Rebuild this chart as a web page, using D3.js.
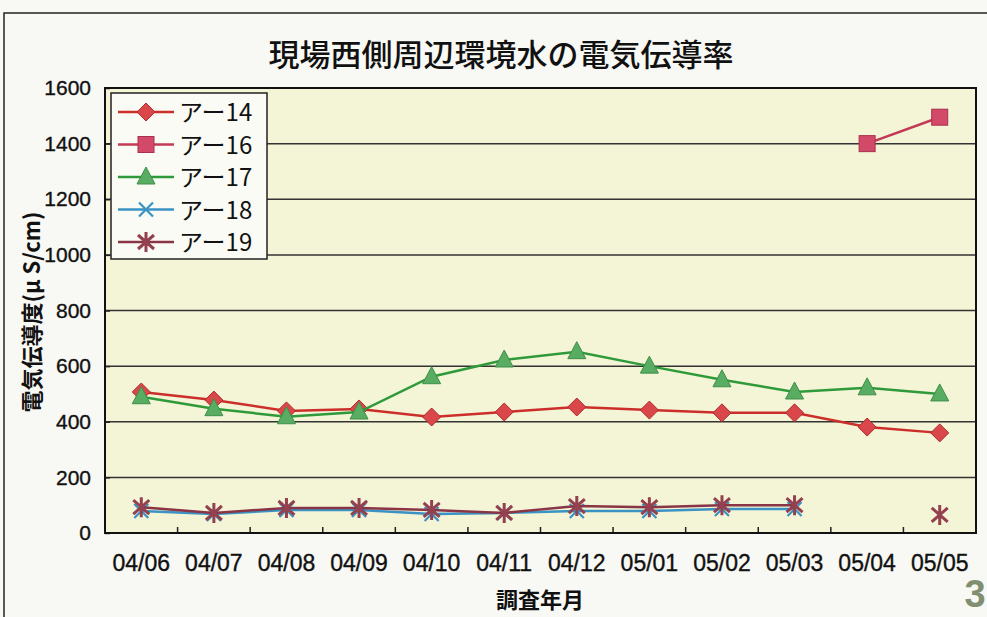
<!DOCTYPE html>
<html>
<head>
<meta charset="utf-8">
<script src="https://cdn.jsdelivr.net/npm/d3@7"></script>
<style>
  body { margin: 0; background: #f8f8f4; }
  svg { display: block; }
  .jp { font-family: "Noto Sans CJK JP", "Noto Sans", sans-serif; }
  .num { font-family: "Liberation Sans", Arial, sans-serif; }
</style>
</head>
<body>
<svg id="chart" width="987" height="617"></svg>
<script>
var categories = ["04/06", "04/07", "04/08", "04/09", "04/10", "04/11", "04/12", "05/01", "05/02", "05/03", "05/04", "05/05"];
var yTicks = [0, 200, 400, 600, 800, 1000, 1200, 1400, 1600];

var a14 = [507, 478, 439, 446, 417, 435, 453, 442, 432, 432, 381, 360];
var a16 = [null, null, null, null, null, null, null, null, null, null, 1400, 1495];
var a17 = [490, 447, 418, 435, 562, 622, 652, 600, 551, 507, 522, 500];
var a18 = [79, 68, 83, 83, 68, 72, 79, 79, 86, 86, null, null];
var a19 = [93, 72, 90, 90, 83, 72, 97, 93, 100, 100, null, 65];

var seriesNames = ["アー14", "アー16", "アー17", "アー18", "アー19"];

var series = [
  { name: seriesNames[0], values: a14, line: "#cc2f2a", fill: "#d9474a", marker: "diamond" },
  { name: seriesNames[1], values: a16, line: "#c23a55", fill: "#d34a68", marker: "square" },
  { name: seriesNames[2], values: a17, line: "#2f9a3a", fill: "#58ad62", marker: "triangle" },
  { name: seriesNames[3], values: a18, line: "#3a93c4", fill: "#3a93c4", marker: "x" },
  { name: seriesNames[4], values: a19, line: "#8a3546", fill: "#93404f", marker: "star" }
];

var svg = d3.select("#chart");
var m = { left: 105, right: 976, top: 88, bottom: 533 };

// outer frame
svg.append("path")
    .attr("d", "M4,617 L4,13 L987,13")
    .attr("fill", "none")
    .attr("stroke", "#222")
    .attr("stroke-width", 1.5);

svg.append("rect")
    .attr("x", m.left).attr("y", m.top)
    .attr("width", m.right - m.left).attr("height", m.bottom - m.top)
    .attr("fill", "#f4f4d6");

var x = d3.scaleBand().domain(categories).range([m.left, m.right]).padding(0);
var y = d3.scaleLinear().domain([0, 1600]).range([m.bottom, m.top]);
function cx(i) { return x(categories[i]) + x.bandwidth() / 2; }

// gridlines
svg.append("g").selectAll("line")
    .data(yTicks.filter(function (t) { return t > 0 && t < 1600; }))
    .join("line")
    .attr("x1", m.left).attr("x2", m.right)
    .attr("y1", function (d) { return y(d); }).attr("y2", function (d) { return y(d); })
    .attr("stroke", "#333").attr("stroke-width", 1.5);

// y axis
var yAxis = svg.append("g")
    .attr("transform", "translate(" + m.left + ",0)")
    .call(d3.axisLeft(y).tickValues(yTicks).tickSize(-5).tickPadding(14).tickFormat(d3.format("d")));
yAxis.select(".domain").remove();
yAxis.selectAll("line").attr("stroke", "#222").attr("stroke-width", 1.5);
yAxis.selectAll("text")
    .attr("class", "num")
    .attr("font-size", 21)
    .attr("fill", "#111")
    .attr("stroke", "#111").attr("stroke-width", 0.35);

// x axis
var xAxis = svg.append("g")
    .attr("transform", "translate(0," + m.bottom + ")")
    .call(d3.axisBottom(x).tickSize(0).tickPadding(22));
xAxis.select(".domain").remove();
xAxis.selectAll("text")
    .attr("class", "num")
    .attr("font-size", 23)
    .attr("fill", "#111")
    .attr("stroke", "#111").attr("stroke-width", 0.35);

// category boundary ticks (inward)
svg.append("g").selectAll("line")
    .data(categories.slice(1))
    .join("line")
    .attr("x1", function (d) { return x(d); }).attr("x2", function (d) { return x(d); })
    .attr("y1", m.bottom).attr("y2", m.bottom - 6)
    .attr("stroke", "#222").attr("stroke-width", 1.5);

// plot border
svg.append("rect")
    .attr("x", m.left).attr("y", m.top)
    .attr("width", m.right - m.left).attr("height", m.bottom - m.top)
    .attr("fill", "none").attr("stroke", "#111").attr("stroke-width", 2);

function drawMarker(g, type, s) {
  var size = 9;
  if (type === "diamond") {
    g.append("path").attr("d", "M0,-" + size + " L" + size + ",0 L0," + size + " L-" + size + ",0 Z")
      .attr("fill", s.fill).attr("stroke", "#b02a2a").attr("stroke-width", 1);
  } else if (type === "square") {
    g.append("rect").attr("x", -8).attr("y", -8).attr("width", 16).attr("height", 16)
      .attr("fill", s.fill).attr("stroke", "#a83050").attr("stroke-width", 1);
  } else if (type === "triangle") {
    g.append("path").attr("d", "M0,-10 L9,7 L-9,7 Z")
      .attr("fill", s.fill).attr("stroke", "#3e8f48").attr("stroke-width", 1);
  } else if (type === "x") {
    g.append("path").attr("d", "M-7,-7 L7,7 M7,-7 L-7,7")
      .attr("stroke", s.line).attr("stroke-width", 2.2).attr("fill", "none");
  } else {
    g.append("path").attr("d", "M-8,-7 L8,7 M8,-7 L-8,7 M0,-10 L0,10")
      .attr("stroke", s.fill).attr("stroke-width", 3).attr("fill", "none");
  }
}

var line = d3.line()
    .defined(function (d) { return d != null; })
    .x(function (d, i) { return cx(i); })
    .y(function (d) { return y(d); });

series.forEach(function (s) {
  var g = svg.append("g");
  g.append("path")
      .datum(s.values)
      .attr("d", line)
      .attr("fill", "none")
      .attr("stroke", s.line)
      .attr("stroke-width", 2.5);
  s.values.forEach(function (v, i) {
    if (v == null) return;
    var mg = g.append("g").attr("transform", "translate(" + cx(i) + "," + y(v) + ")");
    drawMarker(mg, s.marker, s);
  });
});

// legend
var legend = svg.append("g").attr("transform", "translate(111,93)");
legend.append("rect")
    .attr("width", 156).attr("height", 166)
    .attr("fill", "#fbfbf6").attr("stroke", "#222").attr("stroke-width", 1.5);
series.forEach(function (s, i) {
  var ly = 19 + i * 32.5;
  var lg = legend.append("g").attr("transform", "translate(0," + ly + ")");
  lg.append("line").attr("x1", 7).attr("x2", 63).attr("y1", 0).attr("y2", 0)
    .attr("stroke", s.line).attr("stroke-width", 2.5);
  drawMarker(lg.append("g").attr("transform", "translate(35,0)"), s.marker, s);
  lg.append("text")
    .attr("class", "jp")
    .attr("x", 68).attr("y", 9)
    .attr("font-size", 24)
    .attr("fill", "#111")
    .text(s.name);
});

// titles
svg.append("text")
    .attr("class", "jp")
    .attr("x", 501).attr("y", 66)
    .attr("text-anchor", "middle")
    .attr("font-size", 31)
    .attr("font-weight", 500)
    .attr("fill", "#111")
    .text("現場西側周辺環境水の電気伝導率");

svg.append("text")
    .attr("class", "jp")
    .attr("x", 540).attr("y", 608)
    .attr("text-anchor", "middle")
    .attr("font-size", 22)
    .attr("font-weight", 700)
    .attr("fill", "#111")
    .text("調査年月");

svg.append("text")
    .attr("class", "jp")
    .attr("transform", "translate(40,312) rotate(-90)")
    .attr("text-anchor", "middle")
    .attr("font-size", 22)
    .attr("font-weight", 700)
    .attr("fill", "#111")
    .text("電気伝導度(μ S/cm)");

svg.append("text")
    .attr("class", "num")
    .attr("x", 975).attr("y", 607)
    .attr("text-anchor", "middle")
    .attr("font-size", 38)
    .attr("font-weight", 700)
    .attr("fill", "#7f8f70")
    .text("3");
</script>
</body>
</html>
